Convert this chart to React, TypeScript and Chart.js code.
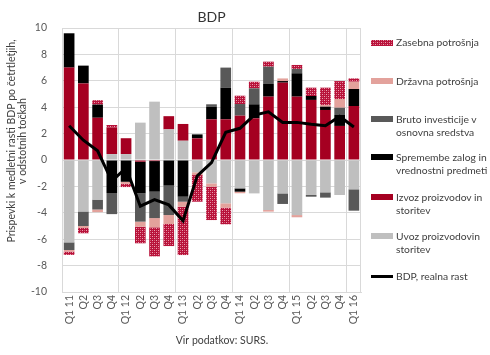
import React, { useEffect, useRef, useMemo } from 'react';
import { Chart, registerables } from 'chart.js';
Chart.register(...registerables);

const FONT = 'Lato, "Open Sans", sans-serif';

const categories = ['Q1 11', 'Q2', 'Q3', 'Q4', 'Q1 12', 'Q2', 'Q3', 'Q4', 'Q1 13', 'Q2', 'Q3', 'Q4', 'Q1 14', 'Q2', 'Q3', 'Q4', 'Q1 15', 'Q2', 'Q3', 'Q4', 'Q1 16'];

const uvoz = [-6.24, -3.9, -3.0, 0.45, 0.45, 2.83, 4.42, 2.32, 1.46, -0.93, -1.77, -3.28, -2.15, -2.53, -3.79, -2.53, -4.17, -2.65, -2.45, -2.65, -2.22];
const izvoz = [7.0, 5.8, 3.2, 2.0, 1.2, -0.13, -0.08, 1.0, 1.27, 1.64, 3.08, 3.08, 3.36, 3.16, 4.8, 5.86, 4.8, 4.55, 3.79, 2.58, 4.09];
const zalogi = [2.6, 1.35, 1.0, -2.5, -1.65, -2.4, -2.32, -1.94, -2.78, 0.3, 0.96, 2.4, -0.25, 1.06, 0.96, 0.12, 1.77, 0.3, 0.25, 0.83, 1.29];
const bruto = [-0.58, -1.1, -0.75, -1.6, 0, -2.14, -2.0, -2.23, -0.38, 0, 0.18, 1.52, 0.88, 1.21, 1.31, -0.8, 0.33, -0.13, -0.4, 0.55, -1.62];
const drzavna = [-0.12, -0.15, -0.2, 0, -0.15, -0.38, -0.7, -0.68, -0.38, -0.21, -0.25, -0.33, -0.12, 0, -0.12, 0.2, -0.17, 0, 0.13, 0.66, 0.55];
const zasebna = [-0.25, -0.4, 0.33, 0.2, -0.25, -1.26, -2.2, -1.67, -3.66, -2.02, -2.53, -1.26, 0.63, 0.5, 0.38, 0, 0.3, 0.63, 1.31, 1.36, 0.25];
const bdp = [2.6, 1.5, 0.7, -1.6, -0.6, -3.5, -3.0, -3.4, -4.6, -1.2, -0.2, 2.1, 2.4, 3.4, 3.65, 2.85, 2.85, 2.7, 2.6, 3.3, 2.5];

const chartTitle = 'BDP';
const xTitle = 'Vir podatkov: SURS.';
const yTitle = ['Prispevki k medletni rasti BDP po četrtletjih,', 'v odstotnih točkah'];

const C_ZAS = '#b8123a';
const C_DRZ = '#e3a29c';
const C_BRUTO = '#595959';
const C_ZALOG = '#000000';
const C_IZVOZ = '#a50021';
const C_UVOZ = '#bfbfbf';

function makePatternCanvas() {
  const off = document.createElement('canvas');
  off.width = 4;
  off.height = 4;
  const o = off.getContext('2d')!;
  o.fillStyle = C_ZAS;
  o.fillRect(0, 0, 4, 4);
  o.fillStyle = '#e9a2b2';
  o.fillRect(0, 0, 1, 1);
  o.fillRect(2, 2, 1, 1);
  o.fillStyle = '#d45a74';
  o.fillRect(2, 0, 1, 1);
  o.fillRect(0, 2, 1, 1);
  return off;
}

const legendItems = [
  { lines: ['Zasebna potrošnja'], kind: 'pattern', y: 42.5 },
  { lines: ['Državna potrošnja'], color: C_DRZ, kind: 'box', y: 81 },
  { lines: ['Bruto investicije v', 'osnovna sredstva'], color: C_BRUTO, kind: 'box', y: 119 },
  { lines: ['Spremembe zalog in', 'vrednostni predmeti'], color: C_ZALOG, kind: 'box', y: 157 },
  { lines: ['Izvoz proizvodov in', 'storitev'], color: C_IZVOZ, kind: 'box', y: 197 },
  { lines: ['Uvoz proizvodovin', 'storitev'], color: C_UVOZ, kind: 'box', y: 236 },
  { lines: ['BDP, realna rast'], color: '#000', kind: 'line', y: 276 },
];

export default function App() {
  const ref = useRef<HTMLCanvasElement>(null);
  const patternUrl = useMemo(() => makePatternCanvas().toDataURL(), []);

  useEffect(() => {
    const canvas = ref.current!;
    const pattern = canvas.getContext('2d')!.createPattern(makePatternCanvas(), 'repeat')!;

    const textPlugin = {
      id: 'texts',
      afterDraw(chart: any) {
        const { ctx, chartArea } = chart;
        ctx.save();
        ctx.fillStyle = '#333333';
        ctx.font = `14px ${FONT}`;
        ctx.textAlign = 'center';
        ctx.textBaseline = 'middle';
        ctx.fillText(chartTitle, (chartArea.left + chartArea.right) / 2, 17);
        ctx.fillStyle = '#404040';
        ctx.font = `10.5px ${FONT}`;
        ctx.fillText(xTitle, 222, 341);
        ctx.translate(12, 141);
        ctx.rotate(-Math.PI / 2);
        ctx.fillText(yTitle[0], 0, 0);
        ctx.fillText(yTitle[1], 0, 10.5);
        ctx.restore();
      },
    };

    const barCommon = { type: 'bar' as const, barPercentage: 0.75, categoryPercentage: 1.0, borderWidth: 0, order: 1, stack: 's' };

    const chart = new Chart(canvas, {
      type: 'bar',
      data: {
        labels: categories,
        datasets: [
          { ...barCommon, label: 'Uvoz proizvodovin storitev', data: uvoz, backgroundColor: C_UVOZ },
          { ...barCommon, label: 'Izvoz proizvodov in storitev', data: izvoz, backgroundColor: C_IZVOZ },
          { ...barCommon, label: 'Spremembe zalog in vrednostni predmeti', data: zalogi, backgroundColor: C_ZALOG },
          { ...barCommon, label: 'Bruto investicije v osnovna sredstva', data: bruto, backgroundColor: C_BRUTO },
          { ...barCommon, label: 'Državna potrošnja', data: drzavna, backgroundColor: C_DRZ },
          { ...barCommon, label: 'Zasebna potrošnja', data: zasebna, backgroundColor: pattern as any },
          {
            type: 'line' as const,
            label: 'BDP, realna rast',
            data: bdp,
            borderColor: '#000',
            borderWidth: 3,
            pointRadius: 0,
            tension: 0,
            order: 0,
            stack: 'bdp',
            fill: false,
          } as any,
        ],
      },
      options: {
        responsive: false,
        animation: false,
        layout: { padding: { left: 0, right: 129, top: 28, bottom: 0 } },
        plugins: {
          legend: { display: false },
          title: { display: false },
          tooltip: { enabled: false },
        },
        scales: {
          x: {
            stacked: true,
            offset: true,
            grid: {
              offset: true,
              drawTicks: false,
              color: (ctx: any) => (ctx.index === undefined || ctx.index % 4 === 0 ? '#d9d9d9' : 'rgba(0,0,0,0)'),
            },
            border: { color: '#d9d9d9' },
            ticks: {
              autoSkip: false,
              minRotation: 90,
              maxRotation: 90,
              padding: 3,
              color: '#595959',
              font: { family: FONT, size: 10.5 },
            },
            afterFit: (scale: any) => {
              scale.height = 63;
            },
          },
          y: {
            stacked: true,
            min: -10,
            max: 10,
            ticks: {
              stepSize: 2,
              padding: 15,
              color: '#595959',
              font: { family: FONT, size: 10.5 },
            },
            grid: { color: '#d9d9d9', drawTicks: false },
            border: { color: '#d9d9d9' },
            afterFit: (scale: any) => {
              scale.width = 62;
            },
          },
        },
      },
      plugins: [textPlugin],
    });
    return () => chart.destroy();
  }, []);

  return (
    <div style={{ position: 'fixed', left: 0, top: 0, width: 490, height: 355, background: '#fff', fontFamily: FONT }}>
      <canvas ref={ref} width={490} height={355} style={{ position: 'absolute', left: 0, top: 0, width: 490, height: 355 }} />
      {legendItems.map((it, i) => (
        <div key={i} style={{ position: 'absolute', left: 371, top: it.y - 6.5, width: 119 }}>
          {it.kind === 'line' ? (
            <div style={{ position: 'absolute', left: 0, top: 5, width: 22, height: 3, background: '#000' }} />
          ) : (
            <div
              style={{
                position: 'absolute',
                left: 0,
                top: 3.5,
                width: 22,
                height: 6,
                background: it.kind === 'pattern' ? `url(${patternUrl})` : it.color,
              }}
            />
          )}
          <div style={{ position: 'absolute', left: 25, top: 0, fontSize: 10.3, lineHeight: '13px', color: '#404040', whiteSpace: 'nowrap' }}>
            {it.lines.map((l, j) => (
              <div key={j}>{l}</div>
            ))}
          </div>
        </div>
      ))}
    </div>
  );
}
